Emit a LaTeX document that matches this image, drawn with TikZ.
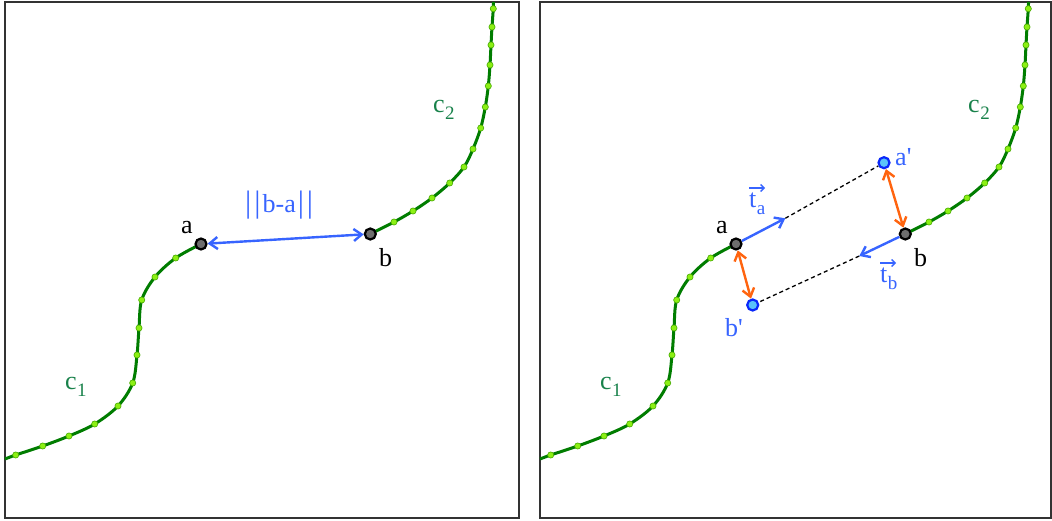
\documentclass[tikz,border=0pt]{standalone}
\usepackage{fontspec}
\setmainfont{Liberation Serif}
\usetikzlibrary{arrows.meta}
\definecolor{curvegreen}{RGB}{0,125,0}
\definecolor{dotfill}{RGB}{140,240,20}
\definecolor{dotedge}{RGB}{70,170,0}
\definecolor{lblgreen}{RGB}{25,130,75}
\definecolor{vecblue}{RGB}{55,100,255}
\definecolor{arrorange}{RGB}{255,100,15}
\definecolor{ptgray}{RGB}{110,110,110}
\definecolor{ptcyan}{RGB}{90,195,250}
\definecolor{ptblue}{RGB}{10,40,250}
\newcommand\lowsub[1]{\kern0.5pt\raisebox{-7pt}{\fontsize{19}{20}\selectfont #1}}
\newcommand\tallbar{{\fontsize{31}{31}\selectfont|}}
\newcommand\drawcurves{%
  \draw[curve] plot[smooth, tension=0.55] coordinates {(5,459) (15.7,455) (42.7,446) (69,436) (94.7,424) (118,406) (132.7,383) (137,355) (139,328) (141.7,300) (155,277) (175.7,258) (201,244)};
  \draw[curve] plot[smooth, tension=0.55] coordinates {(370.3,234) (394,222) (413,211) (432,198) (449.7,183) (464,167) (473,149) (480.7,128) (485.3,107) (488.3,86) (490,65) (491,45) (492,27) (493.3,8.7) (493.5,2)};
  \foreach \px/\py in {15.7/455,42.7/446,69/436,94.7/424,118/406,132.7/383,137/355,139/328,141.7/300,155/277,175.7/258,394/222,413/211,432/198,449.7/183,464/167,473/149,480.7/128,485.3/107,488.3/86,490/65,491/45,492/27,493.3/8.7}
    \filldraw[sample] (\px,\py) circle (3.1pt);
}
\begin{document}
\begin{tikzpicture}[x=1pt,y=-1pt,
  frame/.style={draw=black!80, line width=1.3pt},
  curve/.style={draw=curvegreen, line width=3pt},
  sample/.style={fill=dotfill, draw=dotedge, line width=0.6pt},
  endpt/.style={circle, fill=ptgray, draw=black, line width=2.2pt, inner sep=0pt, minimum size=11pt},
  proj/.style={circle, fill=ptcyan, draw=ptblue, line width=2.2pt, inner sep=0pt, minimum size=11pt},
  lbl/.style={font=\fontsize{26}{30}\selectfont, inner sep=0pt},
  dist/.style={draw=vecblue, line width=2.4pt, {Straight Barb[length=8pt,width=12pt]}-{Straight Barb[length=8pt,width=12pt]}},
  tangent/.style={draw=vecblue, line width=2.4pt, -{Straight Barb[length=8pt,width=12pt]}},
  corr/.style={draw=arrorange, line width=2.4pt, {Straight Barb[length=8pt,width=12pt]}-{Straight Barb[length=8pt,width=12pt]}},
  vecmark/.style={draw=vecblue, line width=1.4pt, -{Straight Barb[length=3.5pt,width=7pt]}},
  link/.style={draw=black, line width=1.3pt, dash pattern=on 4pt off 3pt}]
\useasboundingbox (0,0) rectangle (1052,521);
\fill[white] (0,0) rectangle (1052,521);
% ---------- left panel ----------
\draw[frame] (5,2) rectangle (519,518);
\drawcurves
\node[endpt] (aL) at (201,244) {};
\node[endpt] (bL) at (370.3,234) {};
\draw[dist] (aL) -- (bL);
\node[lbl, anchor=base west] (laL) at (181,234) {a};
\node[lbl, anchor=base west] (lbL) at (379,267) {b};
\node[lbl, anchor=base west, text=vecblue] (ldist) at (245,213) {\tallbar\kern3pt\tallbar\kern2pt b-a\kern2pt\tallbar\kern3pt\tallbar};
\node[lbl, anchor=base west, text=lblgreen] (lc1L) at (65,389) {c\lowsub{1}};
\node[lbl, anchor=base west, text=lblgreen] (lc2L) at (433,113) {c\lowsub{2}};
% ---------- right panel ----------
\draw[frame] (540,2) rectangle (1051,518);
\begin{scope}[xshift=535pt]
\drawcurves
\end{scope}
\node[endpt] (aR) at (736,244) {};
\node[endpt] (bR) at (905.3,234) {};
\node[proj] (ap) at (884,162.7) {};
\node[proj] (bp) at (752.7,305) {};
\coordinate (taend) at (785.3,218.3);
\coordinate (tbend) at (859.3,256);
\draw[link] (taend) -- (ap);
\draw[link] (tbend) -- (bp);
\draw[tangent] (aR) -- (taend);
\draw[tangent] (bR) -- (tbend);
\draw[corr] (ap) -- (bR);
\draw[corr] (aR) -- (bp);
\node[lbl, anchor=base west] (laR) at (716,234) {a};
\node[lbl, anchor=base west] (lbR) at (914,267) {b};
\node[lbl, anchor=base west, text=vecblue] (lap) at (895,166) {a\textquotesingle};
\node[lbl, anchor=base west, text=vecblue] (lbp) at (725,337) {b\textquotesingle};
\node[lbl, anchor=base west, text=vecblue] (lta) at (749,208) {t\lowsub{a}};
\node[lbl, anchor=base west, text=vecblue] (ltb) at (880,283) {t\lowsub{b}};
\draw[vecmark] ([shift={(0,-20)}]lta.base west) -- ++(16,0);
\draw[vecmark] ([shift={(0,-20)}]ltb.base west) -- ++(16,0);
\node[lbl, anchor=base west, text=lblgreen] (lc1R) at (600,389) {c\lowsub{1}};
\node[lbl, anchor=base west, text=lblgreen] (lc2R) at (968,113) {c\lowsub{2}};
\end{tikzpicture}
\end{document}
